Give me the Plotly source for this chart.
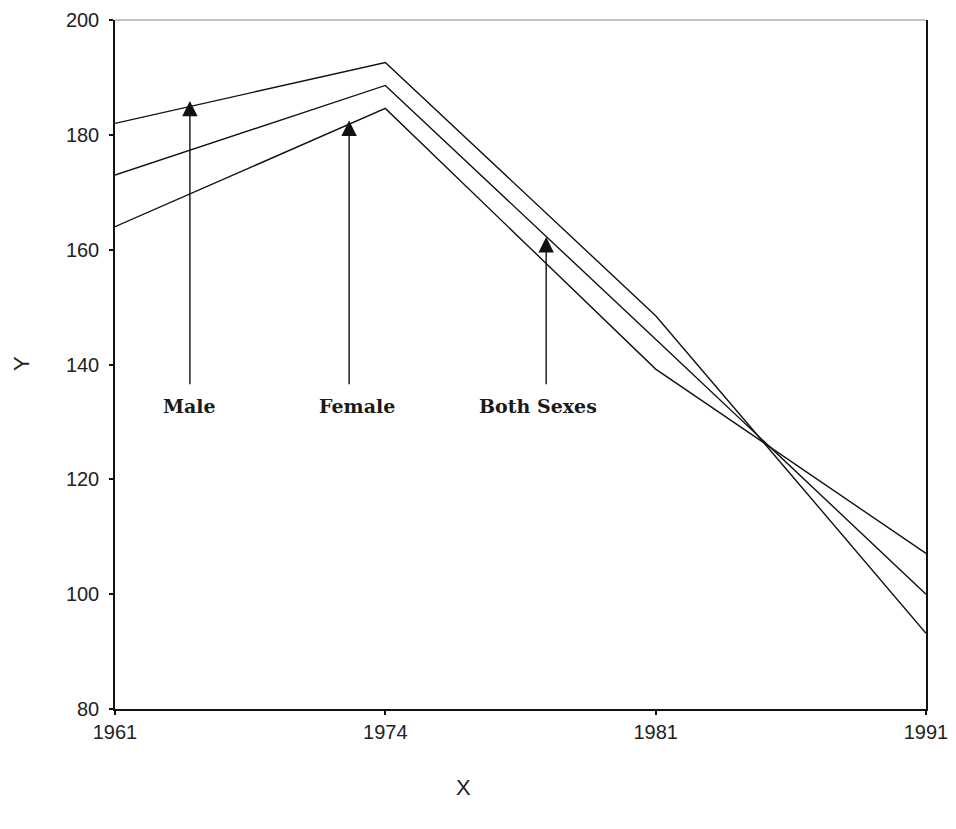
import plotly.graph_objects as go

years = ["1961", "1974", "1981", "1991"]
male = [182.0, 192.6, 148.5, 93.2]
both_sexes = [173.0, 188.6, 144.4, 100.0]
female = [164.0, 184.6, 139.2, 107.1]

y_ticks = [80, 100, 120, 140, 160, 180, 200]

# label annotations: (text, arrow x, arrow tip y, arrow tail y, text x, text y)
labels = [
    ("Male", 0.277, 185.9, 136.3, 0.277, 132.8),
    ("Female", 0.866, 182.5, 136.3, 0.895, 132.8),
    ("Both Sexes", 1.595, 162.2, 136.3, 1.565, 132.8),
]

xpos = list(range(len(years)))

# page body has an 8px margin; figure placed at (8, 8)
W, H = 940, 813
L, R, T, B = 107, 22, 12, 112
PW, PH = W - L - R, H - T - B

fig = go.Figure()
for name, vals in [("Male", male), ("Both Sexes", both_sexes), ("Female", female)]:
    fig.add_trace(go.Scatter(x=xpos, y=vals, mode="lines", name=name,
                             line=dict(color="#111111", width=1.4),
                             showlegend=False, hoverinfo="x+y+name"))

annotations = []
for text, ax_, tip, tail, tx, ty in labels:
    annotations.append(dict(x=ax_, y=tip, ax=ax_, ay=tail, xref="x", yref="y",
                            axref="x", ayref="y", text="", showarrow=True,
                            arrowhead=2, arrowsize=2.2, arrowwidth=1.4,
                            arrowcolor="#111111"))
    annotations.append(dict(x=tx, y=ty, xref="x", yref="y", text="<b>%s</b>" % text,
                            showarrow=False,
                            font=dict(family="DejaVu Serif", size=19,
                                      color="#1a1a1a"),
                            xanchor="center", yanchor="middle"))

bottom_px = 8 + H - B  # page y of the x axis line
annotations.append(dict(x=(463 - 115) / PW, y=(bottom_px - 787) / PH, xref="paper",
                        yref="paper", text="X", showarrow=False,
                        font=dict(family="Liberation Sans", size=22, color="#222222"),
                        xanchor="center", yanchor="middle"))
annotations.append(dict(x=(21 - 115) / PW, y=(bottom_px - 364) / PH, xref="paper",
                        yref="paper", text="Y", showarrow=False, textangle=-90,
                        font=dict(family="Liberation Sans", size=22, color="#222222"),
                        xanchor="center", yanchor="middle"))

fig.update_layout(
    width=W, height=H,
    margin=dict(l=L, r=R, t=T, b=B, autoexpand=False),
    paper_bgcolor="white", plot_bgcolor="white",
    annotations=annotations,
    shapes=[dict(type="line", xref="paper", yref="paper", x0=0, x1=1, y0=1, y1=1,
                 line=dict(color="#888888", width=1))],
    xaxis=dict(range=[0, 3], tickmode="array", tickvals=xpos, ticktext=years,
               showgrid=False, zeroline=False, showline=True, linecolor="#111111",
               linewidth=1.5, ticks="outside", ticklen=4, tickwidth=2,
               tickcolor="#111111", ticklabeloverflow="allow", automargin=False,
               tickfont=dict(family="Liberation Sans", size=20, color="#222222")),
    yaxis=dict(range=[80, 200], tickmode="array", tickvals=y_ticks,
               showgrid=False, zeroline=False, showline=True, linecolor="#111111",
               linewidth=1.5, mirror=True, ticks="outside", ticklen=4, tickwidth=2,
               tickcolor="#111111", ticklabelstandoff=6, ticklabeloverflow="allow",
               automargin=False,
               tickfont=dict(family="Liberation Sans", size=20, color="#222222")),
)

fig.write_html("out.html")
